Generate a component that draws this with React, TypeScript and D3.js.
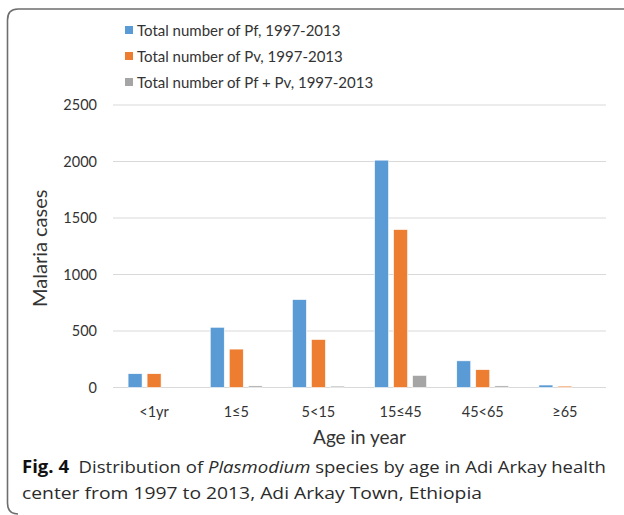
import React from 'react';
import * as d3 from 'd3';

const categories = ['<1yr', '1≤5', '5<15', '15≤45', '45<65', '≥65'];
const seriesNames = [
    'Total number of Pf, 1997-2013',
    'Total number of Pv, 1997-2013',
    'Total number of Pf + Pv, 1997-2013',
];
const pfValues = [122, 533, 778, 2012, 236, 22];
const pvValues = [122, 340, 425, 1398, 158, 12];
const pfPvValues = [0, 14, 12, 107, 14, 0];
const yTicks = [0, 500, 1000, 1500, 2000, 2500];
const colors = ['#5B9BD5', '#ED7D31', '#A5A5A5'];

const W = 624;
const H = 515;
const chartFont = 'Lato, "Open Sans", sans-serif';
const captionFont = '"Open Sans", "Noto Sans", sans-serif';

export default function App() {
    const series = [pfValues, pvValues, pfPvValues];

    const x0 = d3.scaleBand()
        .domain(categories)
        .range([113, 606])
        .paddingInner(0.367)
        .paddingOuter(0.1835);

    const x1 = d3.scaleBand()
        .domain(seriesNames)
        .range([0, x0.bandwidth()])
        .paddingInner(0.263);

    const y = d3.scaleLinear()
        .domain([0, 2500])
        .range([387.5, 105]);

    const [xMin, xMax] = x0.range();

    return (
        <svg width={W} height={H} style={{ position: 'absolute', left: 0, top: 0, background: '#fff' }}>
            {/* frame with rounded left corners */}
            <path
                d="M 624 9 L 18 9 Q 7.5 9 7.5 20 L 7.5 503 Q 7.5 514 18 514"
                fill="none"
                stroke="#6e6e6e"
                strokeWidth={1.6}
            />

            {/* legend */}
            {seriesNames.map((name, i) => (
                <g key={name} transform={`translate(125, ${30 + i * 26})`}>
                    <rect x={0} y={-4} width={8} height={8} fill={colors[i]} />
                    <text x={12} y={5.5} fontFamily={chartFont} fontSize={15} fill="#333">
                        {name}
                    </text>
                </g>
            ))}

            {/* gridlines and y tick labels */}
            {yTicks.map((t) => (
                <g key={t}>
                    <line x1={xMin} x2={xMax} y1={y(t)} y2={y(t)} stroke="#d9d9d9" strokeWidth={1.2} />
                    <text
                        x={97}
                        y={y(t)}
                        dy="0.35em"
                        textAnchor="end"
                        fontFamily={chartFont}
                        fontSize={14.5}
                        fill="#333"
                    >
                        {t}
                    </text>
                </g>
            ))}

            {/* bars */}
            {series.map((vals, si) =>
                categories.map((c, ci) => (
                    vals[ci] > 0 ? (
                        <rect
                            key={`${si}-${c}`}
                            x={(x0(c) ?? 0) + (x1(seriesNames[si]) ?? 0)}
                            y={y(vals[ci])}
                            width={x1.bandwidth()}
                            height={y(0) - y(vals[ci])}
                            fill={colors[si]}
                            stroke="#fff"
                            strokeWidth={0.6}
                        />
                    ) : null
                ))
            )}

            {/* x tick labels */}
            {categories.map((c) => (
                <text
                    key={c}
                    x={(x0(c) ?? 0) + x0.bandwidth() / 2}
                    y={417}
                    textAnchor="middle"
                    fontFamily={chartFont}
                    fontSize={14.5}
                    fill="#333"
                >
                    {c}
                </text>
            ))}

            {/* axis titles */}
            <text
                x={(xMin + xMax) / 2}
                y={444}
                textAnchor="middle"
                fontFamily={chartFont}
                fontSize={19}
                fill="#333"
            >
                Age in year
            </text>
            <text
                transform={`translate(47, ${(y(0) + y(2500)) / 2 + 2}) rotate(-90)`}
                textAnchor="middle"
                fontFamily={chartFont}
                fontSize={20}
                fill="#333"
            >
                Malaria cases
            </text>

            {/* caption */}
            <text
                x={22}
                y={473}
                fontFamily={captionFont}
                fontSize={17}
                fill="#2b2b2b"
                textLength={584}
                lengthAdjust="spacingAndGlyphs"
            >
                <tspan fontWeight="bold" fill="#111">Fig. 4</tspan>
                <tspan>{'\u00a0 Distribution of '}</tspan>
                <tspan fontStyle="italic">Plasmodium</tspan>
                <tspan>{' species by age in Adi Arkay health'}</tspan>
            </text>
            <text
                x={22}
                y={499}
                fontFamily={captionFont}
                fontSize={17}
                fill="#2b2b2b"
                textLength={460}
                lengthAdjust="spacingAndGlyphs"
            >
                center from 1997 to 2013, Adi Arkay Town, Ethiopia
            </text>
        </svg>
    );
}
